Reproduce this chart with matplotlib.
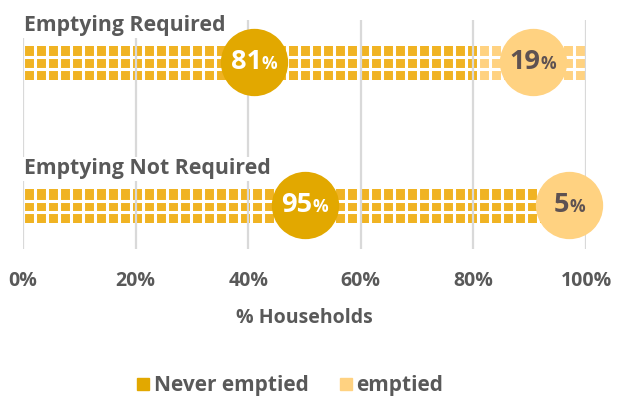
import matplotlib.pyplot as plt
from matplotlib.lines import Line2D

plt.rcParams['font.family'] = ['Open Sans', 'DejaVu Sans']

groups = ['Emptying Required', 'Emptying Not Required']
never_emptied = [81, 95]
emptied = [19, 5]
label_pos = [[41, 90.5], [50, 97]]   # where the value bubbles sit, in %
xticks = [0, 20, 40, 60, 80, 100]

dark = '#F0B323'
dark_bubble = '#E2A800'
light = '#FFD281'
grey = '#595959'
grid_c = '#D9D9D9'

fig = plt.figure(figsize=(6.19, 3.96), dpi=100)
ax = fig.add_axes([0.0372, 0.371, 0.9095, 0.5783])

ypos = [1, 0]
h = 0.235
step = 100 / 47  # tile width

for i, y in enumerate(ypos):
    ax.barh(y, never_emptied[i], height=h, color=dark, zorder=2)
    ax.barh(y, emptied[i], left=never_emptied[i], height=h, color=light, zorder=2)
    total = never_emptied[i] + emptied[i]
    # white gaps that cut the bar into tiles
    ax.hlines([y - h / 6, y + h / 6], 0, total, color='white', lw=2.2, zorder=3)
    xs = [k * step for k in range(48)]
    ax.vlines(xs, y - h / 2 - 0.01, y + h / 2 + 0.01, color='white', lw=2.2, zorder=3)
    ax.text(0.2, y + h / 2 + 0.07, groups[i], fontsize=15.3, fontweight='bold',
            color=grey, ha='left', va='bottom', zorder=5,
            bbox=dict(facecolor='white', edgecolor='none', pad=1))

for x in xticks:
    ax.axvline(x, color=grid_c, lw=1.6, zorder=4)

fig.canvas.draw()
renderer = fig.canvas.get_renderer()

for i, y in enumerate(ypos):
    vals = [never_emptied[i], emptied[i]]
    for j, v in enumerate(vals):
        cx = label_pos[i][j]
        fc = dark_bubble if j == 0 else light
        tc = 'white' if j == 0 else '#5E5252'
        ax.scatter([cx], [y + 0.01], s=2350, color=fc, zorder=6, linewidths=0,
                   clip_on=False)
        t1 = ax.annotate(str(v), (cx, y + 0.01), xytext=(0, 0), textcoords='offset points',
                         fontsize=19.5, fontweight='bold', color=tc,
                         ha='left', va='center', zorder=7)
        t2 = ax.annotate('%', (cx, y + 0.01), xytext=(0, 0), textcoords='offset points',
                         fontsize=12.5, fontweight='bold', color=tc,
                         ha='left', va='center', zorder=7)
        w1 = t1.get_window_extent(renderer).width * 72 / fig.dpi
        w2 = t2.get_window_extent(renderer).width * 72 / fig.dpi
        start = -(w1 + w2) / 2
        t1.set_position((start, 0))
        t2.set_position((start + w1, -2))

ax.set_xlim(0, 100)
ax.set_ylim(-0.3, 1.3)
ax.set_xticks(xticks)
ax.set_xticklabels([f'{x}%' for x in xticks], fontsize=14, fontweight='bold', color=grey)
ax.tick_params(axis='x', length=0, pad=16)
ax.set_yticks([])
for s in ax.spines.values():
    s.set_visible(False)
ax.set_xlabel('% Households', fontsize=14, fontweight='bold', color=grey, labelpad=12)

handles = [Line2D([], [], marker='s', ls='none', markersize=9, color=dark_bubble),
           Line2D([], [], marker='s', ls='none', markersize=9, color=light)]
fig.legend(handles, ['Never emptied', 'emptied'], loc='center', ncol=2,
           bbox_to_anchor=(0.467, 1 - 386 / 396), frameon=False,
           prop=dict(size=15, weight='bold'), labelcolor=grey,
           handletextpad=0.1, columnspacing=1.4, handlelength=0.8)

fig.savefig('out.png', dpi=100)
